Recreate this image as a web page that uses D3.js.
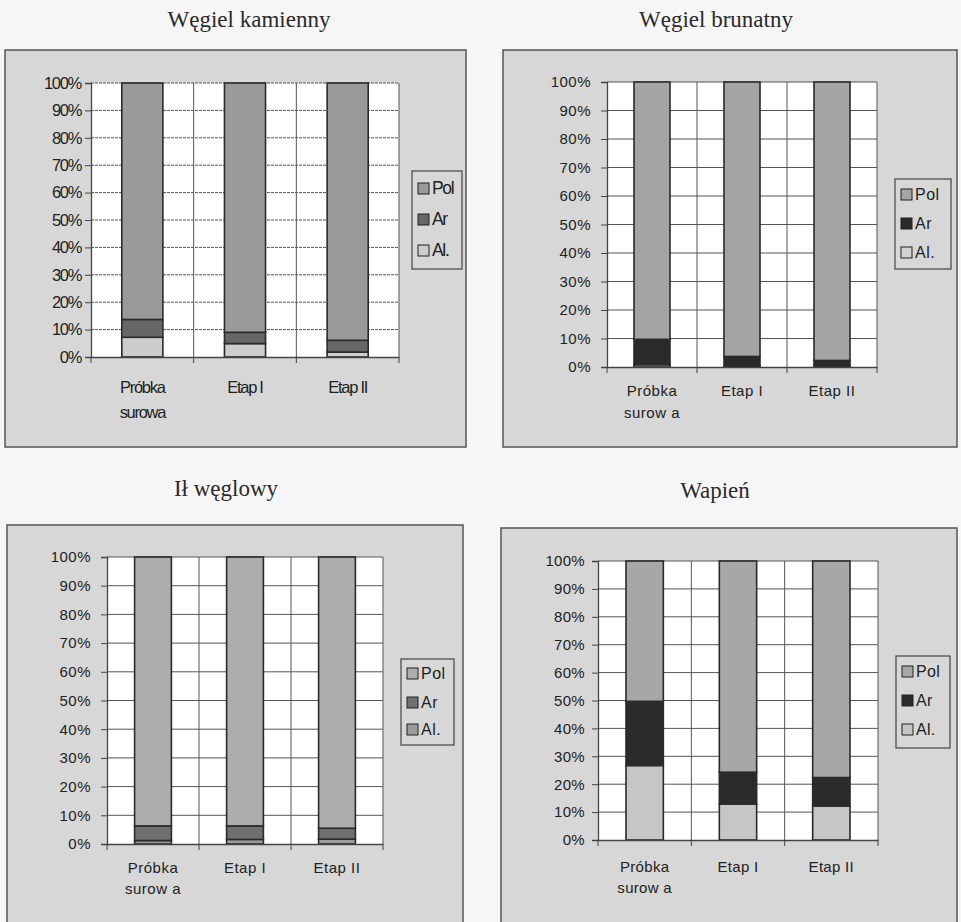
<!DOCTYPE html>
<html><head><meta charset="utf-8">
<script src="https://cdn.jsdelivr.net/npm/d3@7"></script>
<style>body{margin:0;background:#f6f6f6;}svg{display:block;}</style>
</head><body>
<svg id="c" width="961" height="922"></svg>
<script>
// ---- data ----
const series = ["Al.", "Ar", "Pol"];
const legendOrder = ["Pol", "Ar", "Al."];
const yTicks = [0,10,20,30,40,50,60,70,80,90,100];
const catsA = [["Próbka","surowa"],["Etap I"],["Etap II"]];
const catsB = [["Próbka","surow a"],["Etap I"],["Etap II"]];

const titles = ["Węgiel kamienny","Węgiel brunatny","Ił węglowy","Wapień"];

const alKam  = [7.2, 4.9, 1.8];
const arKam  = [6.5, 4.1, 4.3];
const polKam = [86.3, 91.0, 93.9];

const alBru  = [0.8, 0.3, 0.2];
const arBru  = [8.9, 3.4, 2.1];
const polBru = [90.3, 96.3, 97.7];

const alIl   = [1.2, 1.6, 1.7];
const arIl   = [5.1, 4.7, 3.8];
const polIl  = [93.7, 93.7, 94.5];

const alWap  = [26.7, 12.9, 12.2];
const arWap  = [23.0, 11.4, 10.2];
const polWap = [50.3, 75.7, 77.6];

// ---- layout / style ----
const panels = [
  {title:titles[0], cats:catsA, al:alKam, ar:arKam, pol:polKam, tx:249, ty:27,
   box:[5,50,466,447], plot:[91,83,399,357], leg:[412,171,462,269], legY:[189,220,251],
   catY:393, catDy:25, tickFont:"'Liberation Sans'", tickLS:"-1.3px", tickSize:16.5, pad:4,
   colors:{"Pol":"#9a9a9a","Ar":"#676767","Al.":"#cdcdcd"}, dash:"3,1"},
  {title:titles[1], cats:catsB, al:alBru, ar:arBru, pol:polBru, tx:716, ty:27,
   box:[503,50,957,447], plot:[607,82,877,367], leg:[895,179,951,269], legY:[195,224,253],
   catY:396, catDy:22, tickFont:"'Liberation Sans'", tickLS:"0.5px", tickSize:15, pad:10,
   colors:{"Pol":"#a4a4a4","Ar":"#2a2a2a","Al.":"#d2d2d2"}, dash:null},
  {title:titles[2], cats:catsB, al:alIl, ar:arIl, pol:polIl, tx:226, ty:496,
   box:[7,525,463,960], plot:[107,557,383,844], leg:[401,659,454,745], legY:[674,703,730],
   catY:873, catDy:21, tickFont:"'Liberation Sans'", tickLS:"0.5px", tickSize:15, pad:10,
   colors:{"Pol":"#adadad","Ar":"#707070","Al.":"#9c9c9c"}, dash:null},
  {title:titles[3], cats:catsB, al:alWap, ar:arWap, pol:polWap, tx:715, ty:498,
   box:[501,528,957,960], plot:[598,561,878,840], leg:[896,656,950,748], legY:[672,701,730],
   catY:872, catDy:21, tickFont:"'Liberation Sans'", tickLS:"0.3px", tickSize:15, pad:7,
   colors:{"Pol":"#a7a7a7","Ar":"#2b2b2b","Al.":"#c6c6c6"}, dash:null}
];

const svg = d3.select("#c");

panels.forEach((p, pi) => {
  const g = svg.append("g");
  // title
  g.append("text").attr("x", p.tx).attr("y", p.ty).attr("text-anchor","middle")
   .attr("font-family","'Liberation Serif', 'Times New Roman', serif").attr("font-size",23)
   .attr("fill","#2a2a2a").text(p.title);
  // box
  const [bx0,by0,bx1,by1] = p.box;
  g.append("rect").attr("x",bx0).attr("y",by0).attr("width",bx1-bx0).attr("height",by1-by0)
   .attr("fill","#d7d7d7").attr("stroke","#555").attr("stroke-width",1.5);

  const [px0,py0,px1,py1] = p.plot;
  const labels = p.cats.map(c => c.join(" "));
  const x = d3.scaleBand().domain(labels).range([px0,px1]).paddingInner(0.6).paddingOuter(0.3);
  const y = d3.scaleLinear().domain([0,100]).range([py1,py0]);

  // plot area
  g.append("rect").attr("x",px0).attr("y",py0).attr("width",px1-px0).attr("height",py1-py0).attr("fill","#fff");

  // horizontal gridlines
  g.append("g").selectAll("line").data(yTicks.filter(t=>t>0)).join("line")
   .attr("x1",px0).attr("x2",px1).attr("y1",d=>y(d)).attr("y2",d=>y(d))
   .attr("stroke","#555").attr("stroke-width",1)
   .attr("stroke-dasharray", p.dash);
  // vertical gridlines at category boundaries
  const step = x.step();
  const bounds = [0,1,2,3].map(i => px0 + i*step);
  g.append("g").selectAll("line").data(bounds.slice(1)).join("line")
   .attr("x1",d=>d).attr("x2",d=>d).attr("y1",py0).attr("y2",py1)
   .attr("stroke","#555").attr("stroke-width",1);

  // stacked bars
  const rows = labels.map((l,i)=>({cat:l, "Al.":p.al[i], "Ar":p.ar[i], "Pol":p.pol[i]}));
  const stacked = d3.stack().keys(series)(rows);
  stacked.forEach(s => {
    g.append("g").selectAll("rect").data(s).join("rect")
     .attr("x", d=>x(d.data.cat)).attr("width", x.bandwidth())
     .attr("y", d=>y(d[1])).attr("height", d=>y(d[0])-y(d[1]))
     .attr("fill", p.colors[s.key]).attr("stroke","#2a2a2a").attr("stroke-width",1.6);
  });

  // y axis
  const yAx = g.append("g").attr("transform",`translate(${px0},0)`)
    .call(d3.axisLeft(y).tickValues(yTicks).tickFormat(d=>d+"%").tickSize(6).tickPadding(p.pad));
  yAx.select(".domain").attr("stroke","#444").attr("stroke-width",1.3);
  yAx.selectAll(".tick line").attr("stroke","#444");
  yAx.selectAll("text").attr("font-family",p.tickFont).attr("font-size",p.tickSize)
     .attr("letter-spacing",p.tickLS).attr("fill","#222");

  // x axis
  const xAx = g.append("g").attr("transform",`translate(0,${py1})`)
    .call(d3.axisBottom(x).tickSize(0).tickFormat(()=>""));
  xAx.select(".domain").attr("stroke","#444").attr("stroke-width",1.3);
  g.append("g").selectAll("line").data(bounds).join("line")
   .attr("x1",d=>d).attr("x2",d=>d).attr("y1",py1).attr("y2",py1+6)
   .attr("stroke","#444").attr("stroke-width",1);
  // category labels
  p.cats.forEach((c,i) => {
    const t = g.append("text").attr("text-anchor","middle")
      .attr("font-family",p.tickFont).attr("font-size",p.tickSize)
      .attr("letter-spacing",p.tickLS).attr("fill","#222");
    c.forEach((line,j) => {
      t.append("tspan").attr("x", x(labels[i]) + x.bandwidth()/2).attr("y", p.catY + j*p.catDy).text(line);
    });
  });

  // legend
  const [lx0,ly0,lx1,ly1] = p.leg;
  g.append("rect").attr("x",lx0).attr("y",ly0).attr("width",lx1-lx0).attr("height",ly1-ly0)
   .attr("fill","#d7d7d7").attr("stroke","#444").attr("stroke-width",1.2);
  legendOrder.forEach((k,i) => {
    const cy = p.legY[i];
    g.append("rect").attr("x",lx0+6).attr("y",cy-6).attr("width",11).attr("height",11)
     .attr("fill",p.colors[k]).attr("stroke","#222").attr("stroke-width",1);
    g.append("text").attr("x",lx0+20).attr("y",cy+5)
     .attr("font-family",p.tickFont).attr("font-size",p.tickSize+1)
     .attr("letter-spacing",p.tickLS).attr("fill","#222").text(k);
  });
});
</script>
</body></html>
